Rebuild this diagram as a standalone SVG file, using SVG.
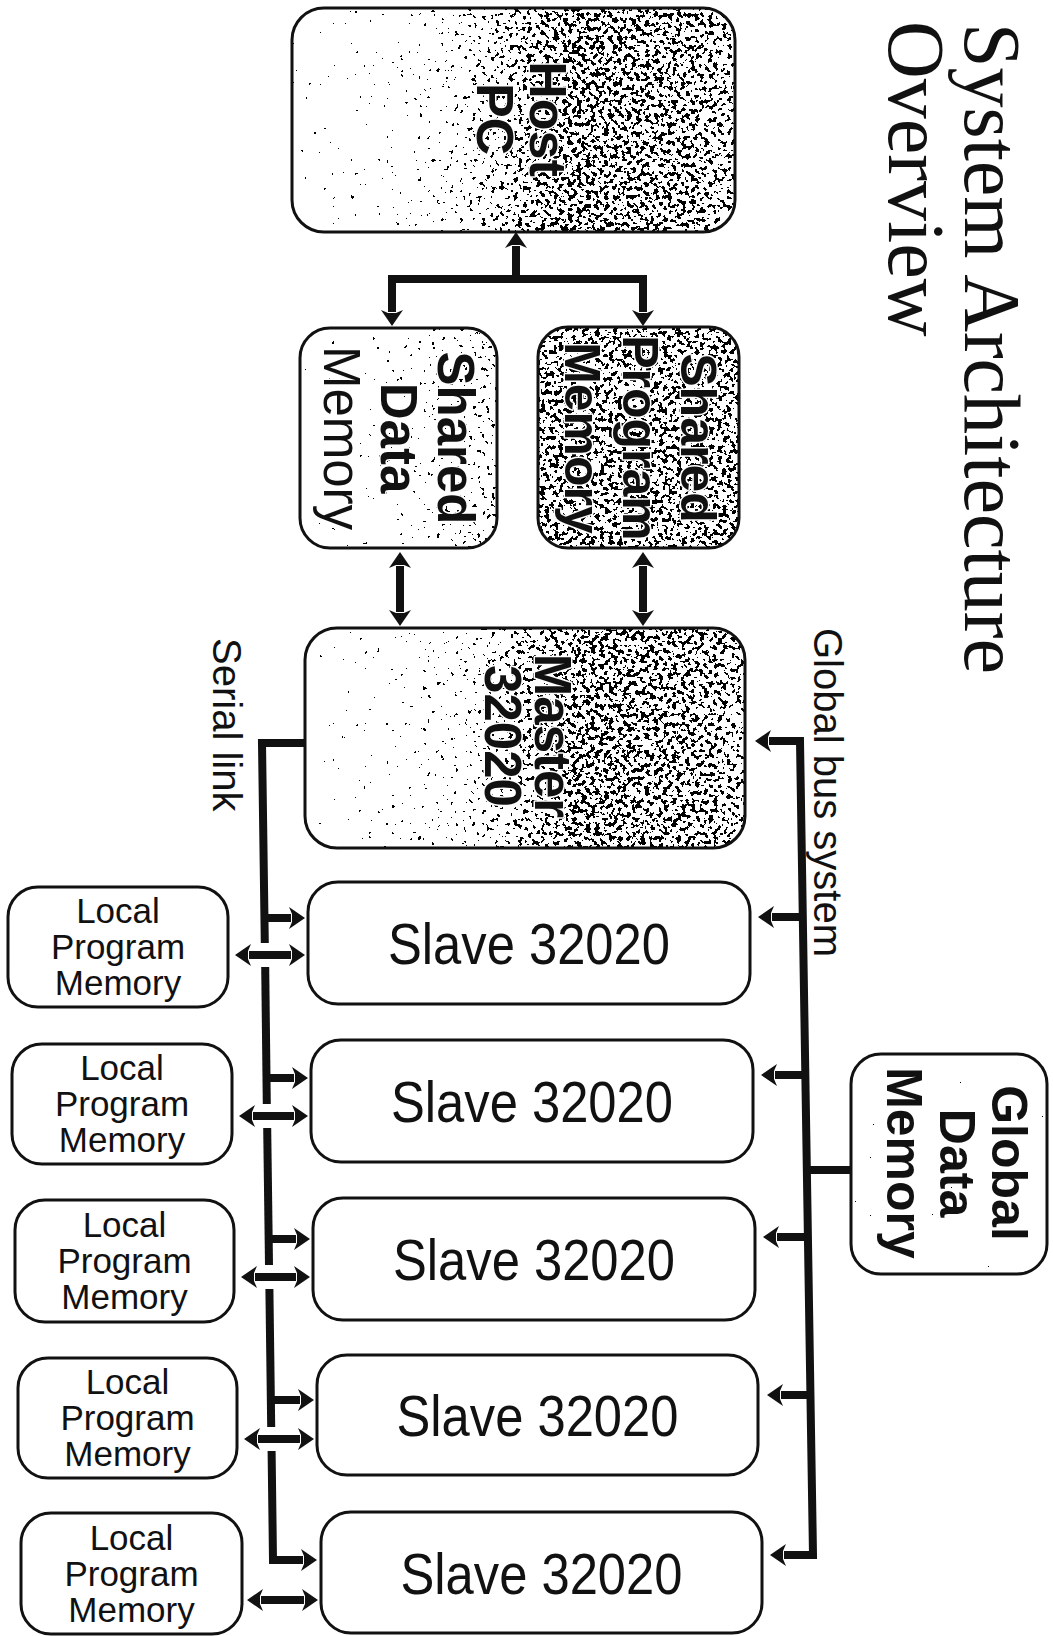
<svg xmlns="http://www.w3.org/2000/svg" width="1053" height="1636" viewBox="0 0 1053 1636">
<defs>
<style>
.bg{fill:#fff}
.box{fill:none;stroke:#111;stroke-width:3}
.lbl{font-family:"Liberation Sans",Arial,sans-serif;fill:#111}
.b{font-weight:bold}
.c{text-anchor:middle}
.halo{stroke:#fff;stroke-width:3;paint-order:stroke;stroke-linejoin:round}
.title{font-family:"Liberation Serif","Times New Roman",serif;font-size:80px;fill:#111}
.wire{fill:none;stroke:#111;stroke-width:8;stroke-linejoin:miter;stroke-linecap:butt}
.slave{font-size:57px}
.local{font-size:35px}
.big{font-size:51px}
.side{font-size:40px}
</style>
<marker id="ah" markerUnits="userSpaceOnUse" markerWidth="20" markerHeight="26" viewBox="0 -13 20 26" refX="2" refY="0" orient="auto-start-reverse">
<path d="M16,0 L0,-11 L3,-4 L3,4 L0,11 Z" fill="#111"/>
</marker>
<filter id="stip" filterUnits="objectBoundingBox" x="0" y="0" width="1" height="1" color-interpolation-filters="sRGB">
<feTurbulence type="fractalNoise" baseFrequency="0.22" numOctaves="2" seed="7" result="n"/>
<feColorMatrix in="n" type="matrix" values="0 0 0 0 0  0 0 0 0 0  0 0 0 0 0  1 0 0 0 0" result="na"/>
<feColorMatrix in="SourceGraphic" type="matrix" values="0 0 0 0 0  0 0 0 0 0  0 0 0 0 0  -1 0 0 1 0" result="d"/>
<feComposite in="d" in2="na" operator="arithmetic" k1="0" k2="1" k3="1" k4="-0.38" result="s"/>
<feComponentTransfer in="s" result="t"><feFuncA type="discrete" tableValues="0 1"/></feComponentTransfer>
<feComposite in="t" in2="SourceAlpha" operator="in"/>
</filter>
<linearGradient id="gHM" x1="0" y1="0" x2="1" y2="0">
<stop offset="0" stop-color="#ebebeb"/>
<stop offset="0.35" stop-color="#d6d6d6"/>
<stop offset="0.5" stop-color="#b8b8b8"/>
<stop offset="0.62" stop-color="#a8a8a8"/>
<stop offset="0.9" stop-color="#adadad"/>
<stop offset="1" stop-color="#b8b8b8"/>
</linearGradient>
<linearGradient id="gSD" x1="0" y1="0" x2="1" y2="0">
<stop offset="0" stop-color="#f2f2f2"/>
<stop offset="0.5" stop-color="#e0e0e0"/>
<stop offset="1" stop-color="#c7c7c7"/>
</linearGradient>
</defs>

<g id="title">
<text class="title" transform="translate(0,23) rotate(90)" x="0" y="-965">System Architecture</text>
<text class="title" transform="translate(0,21) rotate(90)" x="0" y="-889">Overview</text>
</g>

<g id="host-pc">
<rect class="bg" x="292" y="8" width="443" height="224" rx="32"/>
<rect x="292" y="8" width="443" height="224" rx="32" fill="url(#gHM)" filter="url(#stip)"/>
<rect class="box" x="292" y="8" width="443" height="224" rx="32"/>
<g transform="translate(0,119) rotate(90)">
<text class="lbl b c halo" font-size="52" x="0" y="-530">Host</text>
<text class="lbl b c halo" font-size="52" x="0" y="-477">PC</text>
</g>
</g>

<g id="shared-data-memory">
<rect class="bg" x="300" y="328" width="197" height="220" rx="30"/>
<rect x="300" y="328" width="197" height="220" rx="30" fill="url(#gSD)" filter="url(#stip)"/>
<rect class="box" x="300" y="328" width="197" height="220" rx="30"/>
<g transform="translate(0,438) rotate(90)">
<text class="lbl b c big halo" x="0" y="-438">Shared</text>
<text class="lbl b c big halo" x="0" y="-381">Data</text>
<text class="lbl c big halo" x="0" y="-324">Memory</text>
</g>
</g>

<g id="shared-program-memory">
<rect class="bg" x="538" y="327" width="201" height="221" rx="30"/>
<rect x="538" y="327" width="201" height="221" rx="30" fill="#acacac" filter="url(#stip)"/>
<rect class="box" x="538" y="327" width="201" height="221" rx="30"/>
<g transform="translate(0,438) rotate(90)">
<text class="lbl b c halo" font-size="50" x="0" y="-681">Shared</text>
<text class="lbl b c halo" font-size="50" x="0" y="-623">Program</text>
<text class="lbl b c halo" font-size="50" x="0" y="-565">Memory</text>
</g>
</g>

<g id="master">
<rect class="bg" x="305" y="628" width="440" height="220" rx="32"/>
<rect x="305" y="628" width="440" height="220" rx="32" fill="url(#gHM)" filter="url(#stip)"/>
<rect class="box" x="305" y="628" width="440" height="220" rx="32"/>
<g transform="translate(0,736) rotate(90)">
<text class="lbl b c big halo" x="0" y="-535">Master</text>
<text class="lbl b c big halo" x="0" y="-485">32020</text>
</g>
</g>

<g id="global-data-memory">
<rect class="bg" x="851" y="1054" width="196" height="220" rx="30"/>
<rect x="851" y="1054" width="196" height="220" rx="30" fill="#f5f5f5" filter="url(#stip)"/>
<rect class="box" x="851" y="1054" width="196" height="220" rx="30"/>
<g transform="translate(0,1163) rotate(90)">
<text class="lbl b c halo" font-size="50" x="0" y="-992">Global</text>
<text class="lbl b c halo" font-size="50" x="0" y="-940">Data</text>
<text class="lbl b c halo" font-size="50" x="0" y="-887">Memory</text>
</g>
</g>

<g id="slave-1">
<rect class="box" x="308" y="882" width="442" height="122" rx="30"/>
<text class="lbl c slave" x="529" y="964" textLength="282" lengthAdjust="spacingAndGlyphs">Slave 32020</text>
</g>
<g id="slave-2">
<rect class="box" x="311" y="1040" width="442" height="122" rx="30"/>
<text class="lbl c slave" x="532" y="1122" textLength="282" lengthAdjust="spacingAndGlyphs">Slave 32020</text>
</g>
<g id="slave-3">
<rect class="box" x="313" y="1198" width="442" height="122" rx="30"/>
<text class="lbl c slave" x="534" y="1280" textLength="282" lengthAdjust="spacingAndGlyphs">Slave 32020</text>
</g>
<g id="slave-4">
<rect class="box" x="317" y="1355" width="441" height="120" rx="30"/>
<text class="lbl c slave" x="537.5" y="1436" textLength="282" lengthAdjust="spacingAndGlyphs">Slave 32020</text>
</g>
<g id="slave-5">
<rect class="box" x="321" y="1512" width="441" height="121" rx="30"/>
<text class="lbl c slave" x="541.5" y="1594" textLength="282" lengthAdjust="spacingAndGlyphs">Slave 32020</text>
</g>

<g id="local-1">
<rect class="box" x="8" y="887" width="220" height="120" rx="30"/>
<text class="lbl c local" x="118" y="923">Local</text>
<text class="lbl c local" x="118" y="959">Program</text>
<text class="lbl c local" x="118" y="995">Memory</text>
</g>
<g id="local-2">
<rect class="box" x="12" y="1044" width="220" height="120" rx="30"/>
<text class="lbl c local" x="122" y="1080">Local</text>
<text class="lbl c local" x="122" y="1116">Program</text>
<text class="lbl c local" x="122" y="1152">Memory</text>
</g>
<g id="local-3">
<rect class="box" x="15" y="1200" width="219" height="122" rx="30"/>
<text class="lbl c local" x="124.5" y="1237">Local</text>
<text class="lbl c local" x="124.5" y="1273">Program</text>
<text class="lbl c local" x="124.5" y="1309">Memory</text>
</g>
<g id="local-4">
<rect class="box" x="18" y="1358" width="219" height="120" rx="30"/>
<text class="lbl c local" x="127.5" y="1394">Local</text>
<text class="lbl c local" x="127.5" y="1430">Program</text>
<text class="lbl c local" x="127.5" y="1466">Memory</text>
</g>
<g id="local-5">
<rect class="box" x="21" y="1513" width="221" height="121" rx="30"/>
<text class="lbl c local" x="131.5" y="1550">Local</text>
<text class="lbl c local" x="131.5" y="1586">Program</text>
<text class="lbl c local" x="131.5" y="1622">Memory</text>
</g>

<g id="labels">
<text class="lbl side" transform="translate(0,638) rotate(90)" x="0" y="-213">Serial link</text>
<text class="lbl side" transform="translate(0,628) rotate(90)" x="0" y="-814">Global bus system</text>
</g>

<g id="connectors">
<path class="wire" d="M516,246 V279" marker-start="url(#ah)"/>
<path class="wire" d="M392,312 V279 H643 V312" marker-start="url(#ah)" marker-end="url(#ah)"/>
<path class="wire" d="M400,566 V612" marker-start="url(#ah)" marker-end="url(#ah)"/>
<path class="wire" d="M643,566 V612" marker-start="url(#ah)" marker-end="url(#ah)"/>
<path class="wire" d="M769,741 H800 L813,1555 H784" marker-start="url(#ah)" marker-end="url(#ah)"/>
<path class="wire" d="M800,917 H772" marker-end="url(#ah)"/>
<path class="wire" d="M802.5,1075 H775" marker-end="url(#ah)"/>
<path class="wire" d="M805,1237 H777" marker-end="url(#ah)"/>
<path class="wire" d="M807.5,1395 H781" marker-end="url(#ah)"/>
<path class="wire" d="M804,1170 H851"/>
<path class="wire" d="M305,743 H262 L264.8,943"/>
<path class="wire" d="M265.2,967 L266.8,1104"/>
<path class="wire" d="M267.2,1128 L269,1265"/>
<path class="wire" d="M269.4,1289 L271.2,1427"/>
<path class="wire" d="M271.6,1451 L273,1560 H303" marker-end="url(#ah)"/>
<path class="wire" d="M264,918 H291" marker-end="url(#ah)"/>
<path class="wire" d="M266,1078 H294" marker-end="url(#ah)"/>
<path class="wire" d="M268.5,1239 H296" marker-end="url(#ah)"/>
<path class="wire" d="M271,1400 H300" marker-end="url(#ah)"/>
<path class="wire" d="M249,955 H291" marker-start="url(#ah)" marker-end="url(#ah)"/>
<path class="wire" d="M253,1116 H294" marker-start="url(#ah)" marker-end="url(#ah)"/>
<path class="wire" d="M255,1277 H296" marker-start="url(#ah)" marker-end="url(#ah)"/>
<path class="wire" d="M258,1439 H300" marker-start="url(#ah)" marker-end="url(#ah)"/>
<path class="wire" d="M261,1600 H304" marker-start="url(#ah)" marker-end="url(#ah)"/>
</g>
</svg>
